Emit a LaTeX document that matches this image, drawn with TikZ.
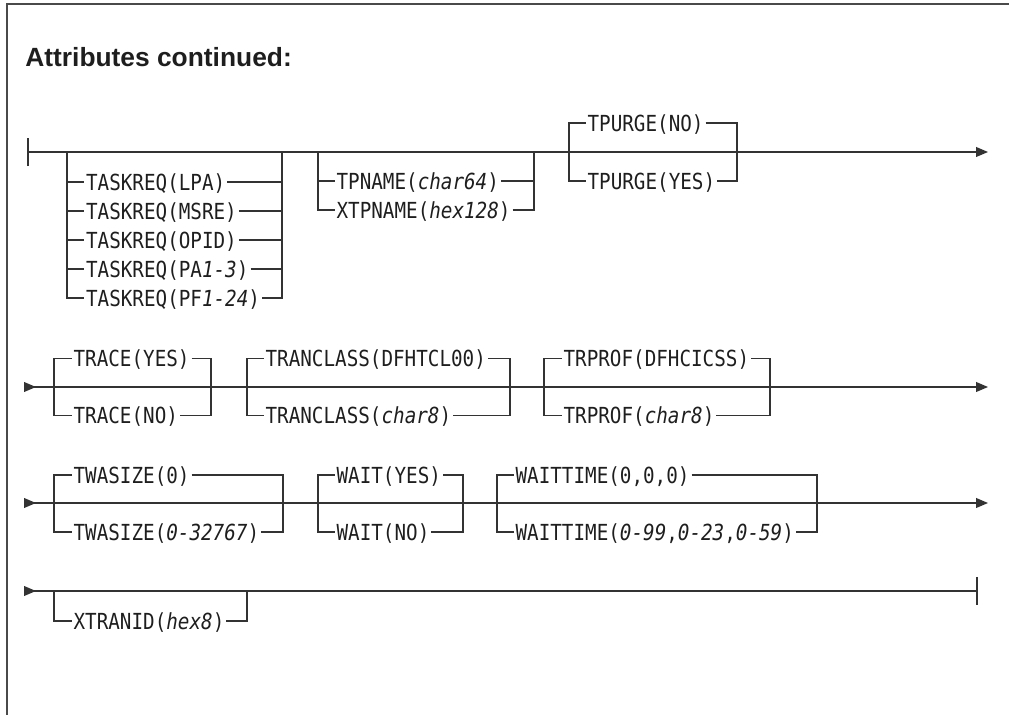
\documentclass[tikz,border=0pt]{standalone}
\usepackage{fontspec}
\setmainfont{Liberation Sans}
\newfontfamily\synfont{DejaVu Sans Mono}[FakeStretch=0.87]
\usepackage{tikz}
\usetikzlibrary{arrows.meta, positioning}
\definecolor{RailGrey}{HTML}{333333}
\definecolor{InkGrey}{HTML}{1E1E1E}
\definecolor{FrameGrey}{HTML}{4A4A4A}

\begin{document}
\begin{tikzpicture}[x=0.02cm, y=-0.02cm, >={Triangle[length=6.8pt,width=5.6pt]}]
    \tikzstyle{title} = [font=\fontsize{15}{18}\selectfont\bfseries, text=InkGrey, inner sep=0pt, anchor=base west]
    \tikzstyle{opt} = [font=\synfont\fontsize{12.6}{15}\selectfont, text=InkGrey, inner xsep=1pt, inner ysep=0pt, text height=9.2pt, text depth=0pt, anchor=west]
    \tikzstyle{line} = [draw, line width=0.7pt, RailGrey]
    \tikzstyle{frame} = [draw, line width=0.9pt, FrameGrey]

    \useasboundingbox (0,0) rectangle (1009,715);
    \path [frame] (7,715) -- (7,4) -- (1009,4);
    \node [title] (head) at (25,67) {Attributes continued:};

    % row 1
    \coordinate (r1s) at (27,152);
    \coordinate (r1e) at (988,152);
    \coordinate (tq-in) at (67,152);
    \coordinate (tq-out) at (282,152);
    \coordinate (tp-in) at (318,152);
    \coordinate (tp-out) at (534,152);
    \coordinate (pg-in) at (569,152);
    \coordinate (pg-out) at (737,152);

    \node [opt] (tqlpa) at (84,182) {TASKREQ(LPA)};
    \node [opt, below=0.58cm of tqlpa.west, anchor=west] (tqmsre) {TASKREQ(MSRE)};
    \node [opt, below=0.58cm of tqmsre.west, anchor=west] (tqopid) {TASKREQ(OPID)};
    \node [opt, below=0.58cm of tqopid.west, anchor=west] (tqpa) {TASKREQ(PA\textit{1-3})};
    \node [opt, below=0.58cm of tqpa.west, anchor=west] (tqpf) {TASKREQ(PF\textit{1-24})};
    \node [opt] (tpname) at (334.5,181) {TPNAME(\textit{char64})};
    \node [opt, below=0.58cm of tpname.west, anchor=west] (xtpname) {XTPNAME(\textit{hex128})};
    \node [opt] (pgno) at (585.5,123) {TPURGE(NO)};
    \node [opt] (pgyes) at (585.5,181) {TPURGE(YES)};

    \path [line, {Bar[width=16pt,line width=1.1pt]}->] (r1s) -- (r1e);
    \path [line] (tq-in) |- (tqlpa) -| (tq-out);
    \path [line] (tq-in) |- (tqmsre) -| (tq-out);
    \path [line] (tq-in) |- (tqopid) -| (tq-out);
    \path [line] (tq-in) |- (tqpa) -| (tq-out);
    \path [line] (tq-in) |- (tqpf) -| (tq-out);
    \path [line] (tp-in) |- (tpname) -| (tp-out);
    \path [line] (tp-in) |- (xtpname) -| (tp-out);
    \path [line] (pg-in) |- (pgno) -| (pg-out);
    \path [line] (pg-in) |- (pgyes) -| (pg-out);

    % row 2
    \coordinate (r2s) at (24,387);
    \coordinate (r2e) at (988,387);
    \coordinate (tr-in) at (54,387);
    \coordinate (tr-out) at (211,387);
    \coordinate (tc-in) at (247,387);
    \coordinate (tc-out) at (510,387);
    \coordinate (tf-in) at (544,387);
    \coordinate (tf-out) at (770,387);

    \node [opt] (tryes) at (71.5,358.5) {TRACE(YES)};
    \node [opt] (trno) at (71.5,415.5) {TRACE(NO)};
    \node [opt] (tcdef) at (263.5,358.5) {TRANCLASS(DFHTCL00)};
    \node [opt] (tcname) at (263.5,415.5) {TRANCLASS(\textit{char8})};
    \node [opt] (tfdef) at (561.5,358.5) {TRPROF(DFHCICSS)};
    \node [opt] (tfname) at (561.5,415.5) {TRPROF(\textit{char8})};

    \path [line, >->] (r2s) -- (r2e);
    \path [line] (tr-in) |- (tryes) -| (tr-out);
    \path [line] (tr-in) |- (trno) -| (tr-out);
    \path [line] (tc-in) |- (tcdef) -| (tc-out);
    \path [line] (tc-in) |- (tcname) -| (tc-out);
    \path [line] (tf-in) |- (tfdef) -| (tf-out);
    \path [line] (tf-in) |- (tfname) -| (tf-out);

    % row 3
    \coordinate (r3s) at (24,503);
    \coordinate (r3e) at (988,503);
    \coordinate (tw-in) at (54,503);
    \coordinate (tw-out) at (283,503);
    \coordinate (wt-in) at (318,503);
    \coordinate (wt-out) at (463,503);
    \coordinate (wm-in) at (497,503);
    \coordinate (wm-out) at (817,503);

    \node [opt] (twdef) at (71.5,475) {TWASIZE(0)};
    \node [opt] (twrange) at (71.5,532) {TWASIZE(\textit{0-32767})};
    \node [opt] (wtyes) at (334.5,475) {WAIT(YES)};
    \node [opt] (wtno) at (334.5,532) {WAIT(NO)};
    \node [opt] (wmdef) at (513.5,475) {WAITTIME(0,0,0)};
    \node [opt] (wmrange) at (513.5,532) {WAITTIME(\textit{0-99},\textit{0-23},\textit{0-59})};

    \path [line, >->] (r3s) -- (r3e);
    \path [line] (tw-in) |- (twdef) -| (tw-out);
    \path [line] (tw-in) |- (twrange) -| (tw-out);
    \path [line] (wt-in) |- (wtyes) -| (wt-out);
    \path [line] (wt-in) |- (wtno) -| (wt-out);
    \path [line] (wm-in) |- (wmdef) -| (wm-out);
    \path [line] (wm-in) |- (wmrange) -| (wm-out);

    % row 4
    \coordinate (r4s) at (24,591);
    \coordinate (r4e) at (978,591);
    \coordinate (xt-in) at (54,591);
    \coordinate (xt-out) at (247,591);

    \node [opt] (xtranid) at (71.5,621) {XTRANID(\textit{hex8})};

    \path [line, >-{Bar[width=16pt,line width=1.1pt]}] (r4s) -- (r4e);
    \path [line] (xt-in) |- (xtranid) -| (xt-out);
\end{tikzpicture}
\end{document}
